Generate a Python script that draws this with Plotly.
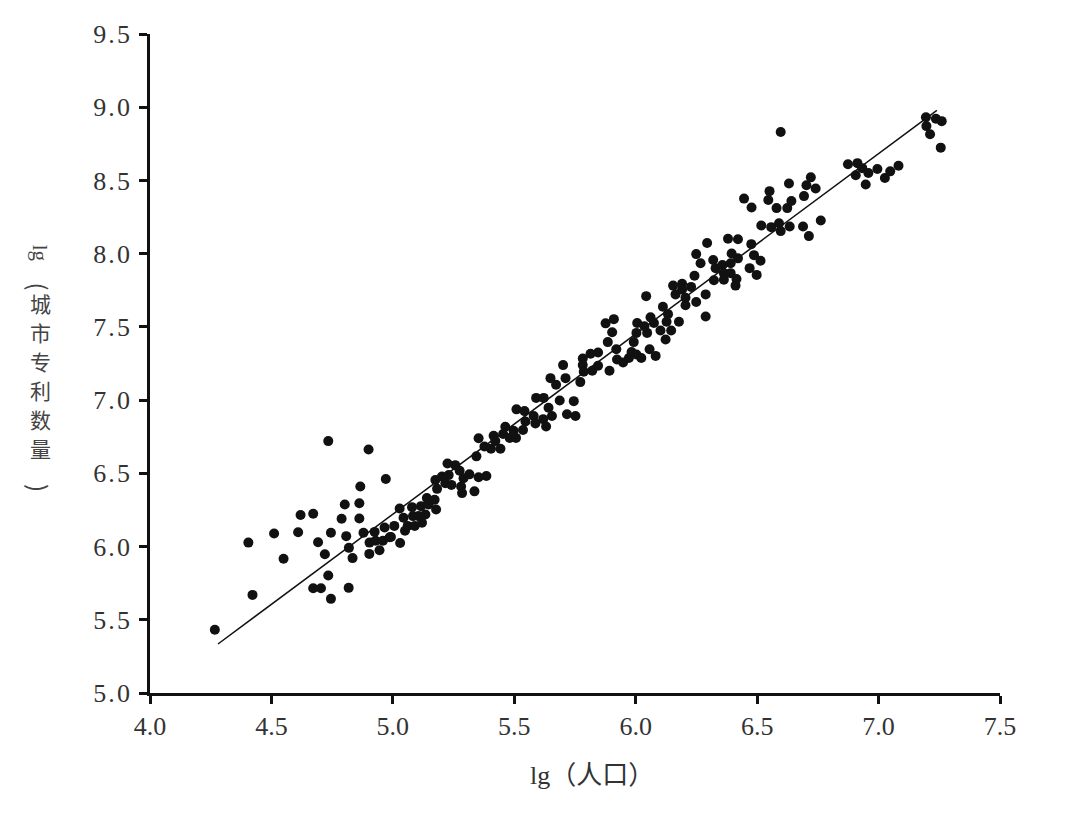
import plotly.graph_objects as go

# lg(population)
lg_pop = [
    4.267, 4.422, 4.405, 4.511, 4.550, 4.620, 4.672, 4.610, 4.734, 4.692,
    4.720, 4.734, 4.672, 4.704, 4.745, 4.745, 4.789, 4.802, 4.808, 4.819,
    4.834, 4.818, 4.862, 4.866, 4.862, 4.900, 4.879, 4.971, 4.904, 4.903,
    4.925, 4.929, 4.945, 4.959, 4.966, 4.987,
    5.006, 4.992, 5.030, 5.028, 5.044, 5.050, 5.061, 5.079, 5.083, 5.090,
    5.116, 5.106, 5.120, 5.140, 5.147, 5.134, 5.172, 5.178, 5.175, 5.182,
    5.202, 5.225, 5.230, 5.216, 5.241, 5.257, 5.275, 5.291, 5.281, 5.285,
    5.315, 5.336, 5.353, 5.385, 5.344, 5.353, 5.377, 5.404, 5.415, 5.422,
    5.443, 5.463, 5.454, 5.481, 5.507, 5.497, 5.509, 5.542, 5.536, 5.546,
    5.580, 5.587, 5.590, 5.621, 5.619, 5.631, 5.641, 5.655, 5.649, 5.672,
    5.687, 5.701, 5.711, 5.717,
    5.745, 5.752, 5.772, 5.782, 5.782, 5.786, 5.814, 5.821, 5.845, 5.845,
    5.892, 5.876, 5.910, 5.903, 5.885, 5.920, 5.923, 5.948, 5.972, 5.983,
    6.003, 5.992, 6.003, 6.006, 6.023, 6.047, 6.036, 6.057, 6.061, 6.043,
    6.082, 6.075, 6.102, 6.112, 6.127, 6.133, 6.123, 6.146, 6.178, 6.164,
    6.154, 6.191, 6.191, 6.205, 6.205, 6.228, 6.249, 6.288, 6.288, 6.242,
    6.249, 6.267, 6.319, 6.329, 6.322, 6.357, 6.363, 6.363, 6.391, 6.391,
    6.395, 6.415, 6.411, 6.421, 6.469, 6.294,
    6.597, 6.446, 6.477, 6.551, 6.546, 6.580, 6.624, 6.631, 6.641, 6.693,
    6.703, 6.721, 6.741, 6.517, 6.558, 6.590, 6.597, 6.634, 6.689, 6.713,
    6.762, 6.874, 6.913, 6.933, 6.958, 6.906, 6.947, 6.995, 7.026, 7.048,
    7.082, 7.195, 7.236, 7.260, 7.197, 7.212, 7.256,
    6.380, 6.421, 6.476, 6.487, 6.514, 6.498,
]

# lg(city patent count)
lg_patent = [
    5.432, 5.670, 6.027, 6.089, 5.917, 6.215, 6.224, 6.098, 6.720, 6.029,
    5.948, 5.802, 5.715, 5.715, 5.643, 6.094, 6.190, 6.287, 6.071, 5.991,
    5.921, 5.718, 6.296, 6.410, 6.192, 6.663, 6.094, 6.461, 6.027, 5.950,
    6.100, 6.040, 5.975, 6.040, 6.130, 6.063,
    6.141, 6.065, 6.024, 6.260, 6.197, 6.108, 6.141, 6.269, 6.208, 6.141,
    6.276, 6.208, 6.163, 6.332, 6.287, 6.219, 6.320, 6.253, 6.455, 6.394,
    6.478, 6.567, 6.488, 6.432, 6.421, 6.556, 6.518, 6.466, 6.410, 6.365,
    6.493, 6.377, 6.473, 6.482, 6.616, 6.740, 6.683, 6.668, 6.757, 6.720,
    6.668, 6.818, 6.769, 6.742, 6.742, 6.791, 6.937, 6.925, 6.796, 6.854,
    6.892, 6.841, 7.015, 7.015, 6.870, 6.820, 6.948, 6.892, 7.150, 7.105,
    6.997, 7.239, 7.150, 6.903,
    6.993, 6.892, 7.123, 7.284, 7.239, 7.194, 7.317, 7.201, 7.325, 7.235,
    7.201, 7.524, 7.553, 7.463, 7.396, 7.347, 7.277, 7.257, 7.288, 7.329,
    7.311, 7.396, 7.459, 7.527, 7.288, 7.459, 7.504, 7.347, 7.565, 7.710,
    7.302, 7.527, 7.475, 7.638, 7.535, 7.587, 7.414, 7.475, 7.535, 7.722,
    7.782, 7.795, 7.755, 7.699, 7.648, 7.773, 7.670, 7.722, 7.571, 7.849,
    7.997, 7.934, 7.957, 7.901, 7.818, 7.923, 7.867, 7.822, 7.934, 7.867,
    8.001, 7.827, 7.782, 7.968, 7.901, 8.073,
    8.831, 8.376, 8.315, 8.427, 8.367, 8.311, 8.311, 8.479, 8.360, 8.393,
    8.467, 8.521, 8.445, 8.192, 8.181, 8.208, 8.154, 8.185, 8.185, 8.120,
    8.226, 8.611, 8.618, 8.584, 8.551, 8.535, 8.472, 8.578, 8.517, 8.562,
    8.600, 8.932, 8.921, 8.905, 8.871, 8.815, 8.724,
    8.102, 8.098, 8.065, 7.990, 7.952, 7.855,
]

# fitted regression line
fit_slope = 1.231
fit_intercept = 0.066
fit_x = [4.28, 7.24]
fit_y = [fit_slope * v + fit_intercept for v in fit_x]

x_ticks = [4.0, 4.5, 5.0, 5.5, 6.0, 6.5, 7.0, 7.5]
x_ticktext = ["4.0", "4.5", "5.0", "5.5", "6.0", "6.5", "7.0", "7.5"]
y_ticks = [5.0, 5.5, 6.0, 6.5, 7.0, 7.5, 8.0, 8.5, 9.0, 9.5]
y_ticktext = ["5.0", "5.5", "6.0", "6.5", "7.0", "7.5", "8.0", "8.5", "9.0", "9.5"]

x_title = "lg（人口）"
y_title_prefix = "lg"
y_title_chars = ["城", "市", "专", "利", "数", "量"]

fig = go.Figure()
fig.add_trace(go.Scatter(
    x=fit_x, y=fit_y, mode="lines",
    line=dict(color="#111111", width=1.5), showlegend=False, hoverinfo="skip"))
fig.add_trace(go.Scatter(
    x=lg_pop, y=lg_patent, mode="markers",
    marker=dict(color="#111111", size=10, line=dict(width=0)), showlegend=False))

tick_font = dict(family="Liberation Serif, Times New Roman, serif", size=26, color="#333333")
axis_common = dict(
    showgrid=False, zeroline=False, showline=True, linecolor="#111111", linewidth=2.5,
    ticks="outside", ticklen=8, tickwidth=2.5, tickcolor="#111111",
    tickfont=tick_font,
)

fig.update_layout(
    width=1080, height=819,
    margin=dict(l=142, r=88, t=16, b=134),
    plot_bgcolor="white", paper_bgcolor="white",
    xaxis=dict(range=[4.0, 7.5], tickvals=x_ticks, ticktext=x_ticktext,
               ticklabelstandoff=0, **axis_common),
    yaxis=dict(range=[5.0, 9.5], tickvals=y_ticks,
               ticktext=[t.replace(".", "\u200a.\u200a") for t in y_ticktext],
               ticklabelstandoff=4, **axis_common),
)

fig.add_annotation(
    text=x_title, xref="paper", yref="paper", x=0.520, y=-0.1256,
    showarrow=False, font=dict(family="Liberation Serif, Noto Sans CJK SC", size=26, color="#333333"),
    xanchor="center", yanchor="middle")

title_x = -0.1294
fig.add_annotation(
    text=y_title_prefix, xref="paper", yref="paper", x=title_x, y=0.668, textangle=90,
    showarrow=False, font=dict(family="Liberation Serif", size=21, color="#444444"),
    xanchor="center", yanchor="middle")
paren_font = dict(family="Noto Sans CJK SC", size=24, color="#444444")
fig.add_annotation(
    text="(", xref="paper", yref="paper", x=title_x, y=0.617, textangle=90,
    showarrow=False, font=paren_font, xanchor="center", yanchor="middle")
char_top, char_step = 0.5912, 0.04396
for i, ch in enumerate(y_title_chars):
    fig.add_annotation(
        text=ch, xref="paper", yref="paper", x=title_x, y=char_top - i * char_step,
        showarrow=False, font=dict(family="Noto Sans CJK SC", size=21, color="#444444"),
        xanchor="center", yanchor="middle", borderpad=0)
fig.add_annotation(
    text=")", xref="paper", yref="paper", x=title_x, y=0.311, textangle=90,
    showarrow=False, font=paren_font, xanchor="center", yanchor="middle")

fig.write_html("out.html")
